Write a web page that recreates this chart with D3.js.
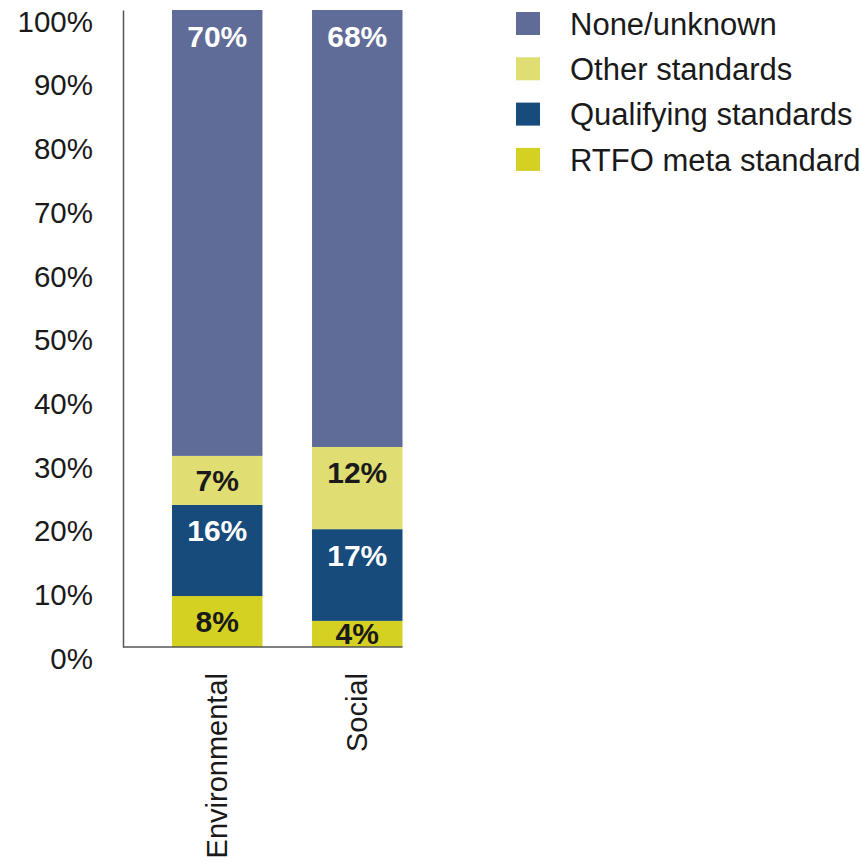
<!DOCTYPE html>
<html>
<head>
<meta charset="utf-8">
<script src="https://cdn.jsdelivr.net/npm/d3@7"></script>
<style>
  body { margin: 0; background: #fff; }
  text { font-family: "Liberation Sans", Arial, sans-serif; fill: #1a1a1a; }
</style>
</head>
<body>
<svg id="chart" width="861" height="862"></svg>
<script>
const categories = ['Environmental', 'Social']
// stack order bottom -> top
const series = ['RTFO meta standard', 'Qualifying standards', 'Other standards', 'None/unknown']
// heights as drawn (percent of bar)
const values = {
  'RTFO meta standard': [8, 4.1],
  'Qualifying standards': [14.3, 14.4],
  'Other standards': [7.7, 12.9],
  'None/unknown': [70, 68.6]
}
// printed labels
const labels = {
  'RTFO meta standard': ['8%', '4%'],
  'Qualifying standards': ['16%', '17%'],
  'Other standards': ['7%', '12%'],
  'None/unknown': ['70%', '68%']
}
const colors = ['#d5d122', '#164b7c', '#e0dd73', '#5f6c97']
const labelColors = ['#1a1a1a', '#ffffff', '#1a1a1a', '#ffffff']
const yTicks = [0, 10, 20, 30, 40, 50, 60, 70, 80, 90, 100]

const svg = d3.select('#chart')
const axisX = 123

const y = d3.scaleLinear().domain([0, 100]).range([647, 10])
const x = d3.scaleBand().domain(categories).range([172, 402.5]).paddingInner(0.354).paddingOuter(0)
const color = d3.scaleOrdinal().domain(series).range(colors)

const rows = categories.map((c, i) => {
  const r = { cat: c }
  series.forEach(s => { r[s] = values[s][i] })
  return r
})
const stacked = d3.stack().keys(series)(rows)

// bars
const layers = svg.selectAll('.layer')
  .data(stacked)
  .enter()
  .append('g')
  .attr('class', 'layer')
  .attr('fill', d => color(d.key))

layers.selectAll('rect')
  .data(d => d)
  .enter()
  .append('rect')
  .attr('x', d => x(d.data.cat))
  .attr('width', x.bandwidth())
  .attr('y', d => y(d[1]))
  .attr('height', d => y(d[0]) - y(d[1]))

// in-bar labels
stacked.forEach((layer, li) => {
  svg.selectAll('.lbl' + li)
    .data(layer)
    .enter()
    .append('text')
    .attr('x', d => x(d.data.cat) + x.bandwidth() / 2)
    .attr('y', d => {
      const top = y(d[1])
      const h = y(d[0]) - top
      return top + Math.min(26, h / 2)
    })
    .attr('dy', '0.35em')
    .attr('text-anchor', 'middle')
    .style('font-size', '30px')
    .style('font-weight', 'bold')
    .style('fill', labelColors[li])
    .text((d, i) => labels[layer.key][i])
})

// left axis
const yAxis = svg.append('g')
  .attr('transform', `translate(${axisX},0)`)
  .call(d3.axisLeft(y).tickValues(yTicks).tickSize(0).tickPadding(30).tickFormat(d => d + '%'))
yAxis.select('.domain').attr('stroke', '#555').attr('stroke-width', 1.5)
yAxis.selectAll('text')
  .attr('dy', '0.72em')
  .style('font-size', '29.5px')
  .style('font-family', '"Liberation Sans", Arial, sans-serif')
  .attr('fill', '#1a1a1a')

// baseline
svg.append('line')
  .attr('x1', axisX)
  .attr('x2', x.range()[1])
  .attr('y1', y(0))
  .attr('y2', y(0))
  .attr('stroke', '#555')
  .attr('stroke-width', 1.5)

// category labels
svg.selectAll('.cat')
  .data(categories)
  .enter()
  .append('text')
  .attr('transform', d => `translate(${x(d) + x.bandwidth() / 2},673) rotate(-90)`)
  .attr('dy', '0.35em')
  .attr('text-anchor', 'end')
  .style('font-size', '29px')
  .text(d => d)

// legend
const legendOrder = series.slice().reverse()
const legend = svg.selectAll('.legend')
  .data(legendOrder)
  .enter()
  .append('g')
  .attr('transform', (d, i) => `translate(516,${12 + i * 45.3})`)
legend.append('rect')
  .attr('width', 24)
  .attr('height', 23)
  .attr('fill', d => color(d))
legend.append('text')
  .attr('x', 54)
  .attr('y', 12)
  .attr('dy', '0.35em')
  .style('font-size', '31px')
  .text(d => d)
</script>
</body>
</html>
